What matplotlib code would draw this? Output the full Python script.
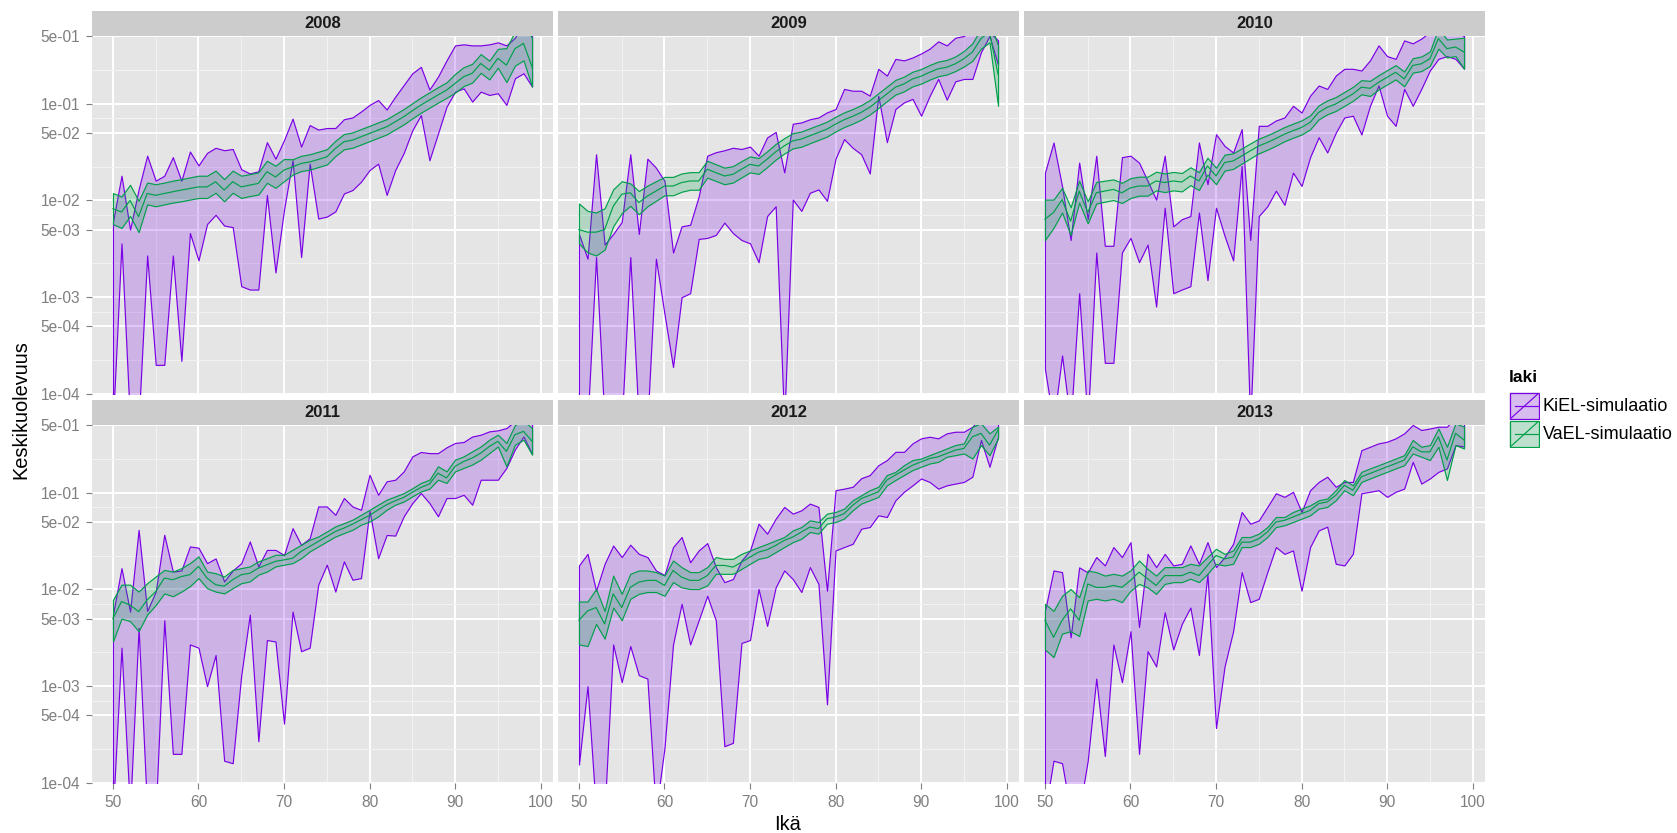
import matplotlib
matplotlib.use("Agg")
import matplotlib.pyplot as plt
from matplotlib.colors import to_rgba
from matplotlib.patches import Rectangle
from matplotlib.ticker import FixedLocator, FixedFormatter, NullFormatter
import numpy as np

plt.rcParams["font.family"] = ["Liberation Sans", "DejaVu Sans"]

ages = list(range(50, 100))
years = [2008, 2009, 2010, 2011, 2012, 2013]
groups = ["KiEL-simulaatio", "VaEL-simulaatio"]

y_breaks = [1e-4, 5e-4, 1e-3, 5e-3, 1e-2, 5e-2, 1e-1, 5e-1]
y_labels = ["1e-04", "5e-04", "1e-03", "5e-03", "1e-02", "5e-02", "1e-01", "5e-01"]
x_breaks = [50, 60, 70, 80, 90, 100]
x_minor = [55, 65, 75, 85, 95]

# --- KiEL simulation band (lower / upper), ages 50..99; 0 = no deaths ---
kiel_lo_2008 = [0, 0.0036, 0, 0, 0.0027, 0.0002, 0.0002, 0.0027, 0.00022, 0.0046,
                0.0024, 0.0057, 0.0071, 0.0055, 0.0053, 0.0013, 0.0012, 0.0012, 0.0114, 0.0018,
                0.0080, 0.026, 0.0026, 0.024, 0.0065, 0.0068, 0.0077, 0.0118, 0.0128, 0.0156,
                0.0206, 0.024, 0.0114, 0.0206, 0.031, 0.053, 0.076, 0.026, 0.049, 0.093,
                0.133, 0.144, 0.105, 0.133, 0.123, 0.128, 0.097, 0.183, 0.206, 0.150]
kiel_hi_2008 = [0.006, 0.018, 0.005, 0.013, 0.029, 0.016, 0.018, 0.028, 0.016, 0.032,
                0.023, 0.031, 0.035, 0.033, 0.034, 0.021, 0.019, 0.020, 0.040, 0.027,
                0.042, 0.070, 0.036, 0.060, 0.054, 0.056, 0.056, 0.069, 0.072, 0.083,
                0.097, 0.109, 0.087, 0.118, 0.156, 0.206, 0.24, 0.14, 0.19, 0.28,
                0.40, 0.41, 0.40, 0.40, 0.41, 0.43, 0.40, 0.48, 0.70, 0.60]

kiel_lo_2009 = [0, 0, 0.0026, 0, 0, 0, 0.0026, 0, 0, 0.0025,
                0.00067, 0.00019, 0.001, 0.0011, 0.004, 0.0041, 0.0044, 0.0059, 0.0046, 0.0039,
                0.0036, 0.0023, 0.0069, 0.0087, 0, 0.0102, 0.0078, 0.012, 0.013, 0.0099,
                0.027, 0.043, 0.035, 0.030, 0.019, 0.12, 0.04, 0.088, 0.103, 0.112,
                0.075, 0.12, 0.18, 0.11, 0.17, 0.18, 0.18, 0.34, 0.50, 0.25]
kiel_hi_2009 = [0.0045, 0.0025, 0.030, 0.0035, 0.0045, 0.006, 0.030, 0.0045, 0.027, 0.0218,
                0.0159, 0.0029, 0.0054, 0.0056, 0.011, 0.029, 0.0315, 0.033, 0.035, 0.034,
                0.036, 0.029, 0.0448, 0.051, 0.0195, 0.062, 0.064, 0.069, 0.072, 0.0813,
                0.088, 0.142, 0.136, 0.136, 0.121, 0.229, 0.195, 0.29, 0.28, 0.30,
                0.33, 0.37, 0.44, 0.40, 0.48, 0.50, 0.60, 0.70, 0.55, 0.45]

kiel_lo_2010 = [0.00018, 0, 0.00025, 0, 0.0011, 0, 0.0029, 0.00021, 0.00021, 0.0029,
                0.0041, 0.0023, 0.0035, 0.0008, 0.0084, 0.0011, 0.0012, 0.0013, 0.0075, 0.0015,
                0.0084, 0.0043, 0.0024, 0.0227, 0, 0.0069, 0.0087, 0.0126, 0.009, 0.0194,
                0.0141, 0.028, 0.045, 0.0313, 0.05, 0.072, 0.075, 0.048, 0.095, 0.154,
                0.075, 0.059, 0.142, 0.095, 0.142, 0.22, 0.29, 0.31, 0.29, 0.23]
kiel_hi_2010 = [0.0194, 0.0397, 0.014, 0.0039, 0.0246, 0.0064, 0.029, 0.0034, 0.0034, 0.028,
                0.029, 0.0246, 0.0159, 0.0102, 0.029, 0.0054, 0.0064, 0.0069, 0.0397, 0.0147,
                0.0484, 0.0366, 0.0313, 0.0546, 0.0039, 0.059, 0.059, 0.067, 0.072, 0.095,
                0.081, 0.121, 0.154, 0.142, 0.195, 0.229, 0.229, 0.22, 0.28, 0.40,
                0.31, 0.29, 0.45, 0.42, 0.47, 0.55, 0.60, 0.60, 0.55, 0.50]

kiel_lo_2011 = [0, 0.0025, 0, 0.004, 0, 0, 0.0048, 0.0002, 0.0002, 0.0027,
                0.0025, 0.001, 0.0021, 0.00017, 0.00016, 0.0013, 0.0055, 0.00027, 0.003, 0.0029,
                0.00041, 0.0059, 0.0023, 0.0025, 0.0112, 0.018, 0.0095, 0.0195, 0.0126, 0.0131,
                0.065, 0.021, 0.0365, 0.036, 0.057, 0.078, 0.099, 0.078, 0.057, 0.088,
                0.088, 0.095, 0.075, 0.136, 0.136, 0.136, 0.18, 0.28, 0.38, 0.25]
kiel_hi_2011 = [0.0055, 0.0166, 0.0059, 0.0413, 0.006, 0.0095, 0.0367, 0.0153, 0.0157, 0.0278,
                0.027, 0.0187, 0.0209, 0.0121, 0.0157, 0.0187, 0.0313, 0.0173, 0.0256, 0.0256,
                0.0227, 0.043, 0.0289, 0.0338, 0.072, 0.072, 0.059, 0.088, 0.072, 0.0665,
                0.153, 0.095, 0.131, 0.136, 0.166, 0.237, 0.263, 0.256, 0.256, 0.294,
                0.326, 0.334, 0.38, 0.397, 0.43, 0.44, 0.465, 0.55, 0.60, 0.55]

kiel_lo_2012 = [0.000155, 0.001, 0, 0, 0.0027, 0.0011, 0.0026, 0.0013, 0.0012, 0,
                0.00023, 0.0027, 0.0071, 0.0027, 0.0048, 0.0086, 0.0048, 0.00024, 0.00026, 0.0028,
                0.003, 0.0101, 0.0042, 0.0105, 0.0157, 0.0128, 0.0094, 0.017, 0.0114, 0.00065,
                0.0253, 0.0274, 0.0296, 0.0424, 0.0441, 0.0583, 0.056, 0.0834, 0.102, 0.119,
                0.14, 0.129, 0.11, 0.119, 0.124, 0.129, 0.146, 0.35, 0.185, 0.378]
kiel_hi_2012 = [0.0177, 0.0233, 0.0097, 0.0184, 0.0284, 0.0216, 0.029, 0.0233, 0.0216, 0.0157,
                0.0141, 0.0274, 0.0348, 0.0191, 0.0253, 0.0301, 0.017, 0.0119, 0.0128, 0.0199,
                0.0253, 0.0478, 0.0377, 0.0538, 0.0712, 0.0607, 0.0657, 0.0771, 0.0712, 0.0097,
                0.106, 0.11, 0.115, 0.141, 0.152, 0.192, 0.217, 0.264, 0.264, 0.323,
                0.364, 0.378, 0.364, 0.41, 0.426, 0.426, 0.48, 0.60, 0.60, 0.55]

kiel_lo_2013 = [0, 0.00017, 0.00016, 0, 0, 0.00017, 0.0012, 0.00019, 0.0027, 0.0011,
                0.0037, 0.0002, 0.0023, 0.0016, 0.0058, 0.0024, 0.0044, 0.0065, 0.0021, 0.0145,
                0.00037, 0.0016, 0.0037, 0.0151, 0.0074, 0.008, 0.0151, 0.0274, 0.0233, 0.0253,
                0.0097, 0.0274, 0.0407, 0.0445, 0.0184, 0.0177, 0.0233, 0.0985, 0.102, 0.106,
                0.0904, 0.102, 0.11, 0.208, 0.124, 0.14, 0.164, 0.178, 0.31, 0.30]
kiel_hi_2013 = [0.006, 0.0157, 0.0151, 0.0032, 0.0169, 0.015, 0.0216, 0.0177, 0.0274, 0.0216,
                0.0308, 0.0041, 0.0233, 0.017, 0.0233, 0.0177, 0.0184, 0.0285, 0.0184, 0.0308,
                0.017, 0.0216, 0.0296, 0.0631, 0.0478, 0.0517, 0.0712, 0.0985, 0.0904, 0.102,
                0.0631, 0.106, 0.129, 0.146, 0.115, 0.129, 0.129, 0.275, 0.298, 0.323,
                0.336, 0.364, 0.41, 0.50, 0.444, 0.46, 0.48, 0.48, 0.60, 0.55]

# --- VaEL simulation band (lower / middle / upper), ages 50..99 ---
vael_lo_2008 = [0.0057, 0.0052, 0.0069, 0.0047, 0.0091, 0.0087, 0.0091, 0.0095, 0.0098, 0.0102,
                0.0106, 0.0106, 0.012, 0.0098, 0.012, 0.0106, 0.0111, 0.0115, 0.0152, 0.0135,
                0.0158, 0.0185, 0.0201, 0.0208, 0.0221, 0.0235, 0.0287, 0.0337, 0.035, 0.0379,
                0.041, 0.0444, 0.0481, 0.0542, 0.0611, 0.0704, 0.0806, 0.0908, 0.1025, 0.115,
                0.13, 0.152, 0.165, 0.208, 0.178, 0.235, 0.167, 0.247, 0.28, 0.15]
vael_mid_2008 = [0.0082, 0.0076, 0.010, 0.0068, 0.0118, 0.0113, 0.0118, 0.0123, 0.0128, 0.0133,
                 0.0138, 0.0138, 0.0156, 0.0128, 0.0156, 0.0138, 0.0144, 0.015, 0.0198, 0.0175,
                 0.0206, 0.0222, 0.0241, 0.025, 0.0265, 0.0282, 0.0344, 0.0404, 0.042, 0.0455,
                 0.0492, 0.0533, 0.0577, 0.065, 0.0733, 0.0845, 0.0967, 0.109, 0.123, 0.138,
                 0.162, 0.19, 0.206, 0.26, 0.222, 0.294, 0.25, 0.37, 0.42, 0.24]
vael_hi_2008 = [0.0119, 0.011, 0.0145, 0.0099, 0.0153, 0.0147, 0.0153, 0.016, 0.0166, 0.0173,
                0.018, 0.018, 0.0203, 0.0166, 0.0203, 0.018, 0.0187, 0.0195, 0.0257, 0.0228,
                0.0268, 0.0266, 0.0289, 0.030, 0.0318, 0.0338, 0.0413, 0.0485, 0.0504, 0.0546,
                0.059, 0.064, 0.0692, 0.078, 0.088, 0.101, 0.116, 0.131, 0.148, 0.166,
                0.203, 0.238, 0.258, 0.325, 0.278, 0.368, 0.375, 0.555, 0.63, 0.48]

vael_lo_2009 = [0.0036, 0.0029, 0.0027, 0.0031, 0.0054, 0.0074, 0.0088, 0.0072, 0.0087, 0.0099,
                0.0113, 0.0113, 0.0123, 0.0129, 0.0129, 0.0172, 0.0159, 0.0147, 0.0153, 0.0173,
                0.0195, 0.0188, 0.0221, 0.0264, 0.0305, 0.0345, 0.0359, 0.039, 0.0422, 0.0457,
                0.0516, 0.0573, 0.0622, 0.0684, 0.0772, 0.0903, 0.106, 0.124, 0.134, 0.151,
                0.161, 0.177, 0.192, 0.2, 0.217, 0.242, 0.277, 0.37, 0.43, 0.095]
vael_mid_2009 = [0.005, 0.0047, 0.0047, 0.005, 0.0087, 0.0116, 0.012, 0.0095, 0.0111, 0.0125,
                 0.0141, 0.0141, 0.0153, 0.0159, 0.0159, 0.021, 0.0194, 0.0179, 0.0186, 0.021,
                 0.0236, 0.0227, 0.0267, 0.0318, 0.0366, 0.0413, 0.043, 0.0466, 0.0504, 0.0546,
                 0.0615, 0.0682, 0.074, 0.0813, 0.0917, 0.1075, 0.126, 0.148, 0.16, 0.18,
                 0.192, 0.211, 0.229, 0.238, 0.258, 0.291, 0.341, 0.47, 0.55, 0.2]
vael_hi_2009 = [0.0093, 0.0078, 0.0075, 0.0083, 0.013, 0.0158, 0.015, 0.0125, 0.0142, 0.0158,
                0.0175, 0.0175, 0.019, 0.0196, 0.0196, 0.0257, 0.0237, 0.0218, 0.0226, 0.0255,
                0.0285, 0.0274, 0.0322, 0.0383, 0.044, 0.0495, 0.0515, 0.0557, 0.0602, 0.0652,
                0.0733, 0.0812, 0.088, 0.0966, 0.109, 0.128, 0.15, 0.176, 0.19, 0.214,
                0.228, 0.251, 0.272, 0.283, 0.307, 0.35, 0.42, 0.6, 0.7, 0.4]

vael_lo_2010 = [0.0039, 0.0052, 0.0075, 0.0044, 0.0095, 0.0058, 0.0093, 0.0097, 0.0101, 0.0094,
                0.0106, 0.0112, 0.0112, 0.0127, 0.0122, 0.0127, 0.0124, 0.0144, 0.0128, 0.0185,
                0.0147, 0.0203, 0.0212, 0.024, 0.0272, 0.0307, 0.0334, 0.0368, 0.0409, 0.0444,
                0.048, 0.0542, 0.0688, 0.0776, 0.0841, 0.0948, 0.107, 0.125, 0.12, 0.14,
                0.158, 0.178, 0.151, 0.209, 0.217, 0.245, 0.37, 0.3, 0.31, 0.23]
vael_mid_2010 = [0.0064, 0.0075, 0.0102, 0.0061, 0.0125, 0.0075, 0.012, 0.0125, 0.013, 0.012,
                 0.0135, 0.0141, 0.0141, 0.0159, 0.0153, 0.0159, 0.0155, 0.0179, 0.0159, 0.0227,
                 0.0179, 0.0246, 0.0256, 0.0288, 0.0325, 0.0366, 0.0397, 0.0437, 0.0484, 0.0525,
                 0.0568, 0.064, 0.0813, 0.0917, 0.0993, 0.112, 0.126, 0.148, 0.144, 0.166,
                 0.187, 0.211, 0.18, 0.248, 0.258, 0.291, 0.47, 0.37, 0.385, 0.341]
vael_hi_2010 = [0.0102, 0.0102, 0.0135, 0.0085, 0.016, 0.0098, 0.0155, 0.016, 0.0165, 0.0152,
                0.017, 0.0176, 0.0176, 0.0198, 0.019, 0.0197, 0.0192, 0.022, 0.0196, 0.0276,
                0.0218, 0.0297, 0.0307, 0.0345, 0.0388, 0.0435, 0.0472, 0.0518, 0.0573, 0.0622,
                0.0672, 0.0757, 0.096, 0.108, 0.117, 0.132, 0.149, 0.175, 0.172, 0.197,
                0.222, 0.25, 0.215, 0.295, 0.307, 0.346, 0.6, 0.46, 0.47, 0.48]

vael_lo_2011 = [0.0029, 0.005, 0.0047, 0.0037, 0.0055, 0.0069, 0.0091, 0.0085, 0.0095, 0.0108,
                0.0131, 0.0103, 0.0095, 0.0091, 0.0103, 0.0116, 0.0121, 0.0142, 0.0153, 0.0173,
                0.018, 0.0187, 0.021, 0.0247, 0.0278, 0.0313, 0.0352, 0.0382, 0.0413, 0.0466,
                0.0504, 0.0568, 0.0665, 0.075, 0.081, 0.0914, 0.103, 0.11, 0.136, 0.126,
                0.166, 0.18, 0.195, 0.219, 0.256, 0.30, 0.187, 0.313, 0.352, 0.247]
vael_mid_2011 = [0.005, 0.0075, 0.0069, 0.0059, 0.0078, 0.0095, 0.0131, 0.0126, 0.0136, 0.0142,
                 0.0173, 0.0131, 0.0112, 0.0108, 0.0126, 0.0142, 0.0147, 0.0166, 0.018, 0.0195,
                 0.0202, 0.021, 0.0247, 0.0278, 0.0313, 0.0352, 0.0397, 0.043, 0.0473, 0.0525,
                 0.0582, 0.0665, 0.075, 0.0824, 0.0893, 0.101, 0.113, 0.123, 0.159, 0.142,
                 0.187, 0.21, 0.228, 0.256, 0.30, 0.339, 0.267, 0.397, 0.43, 0.339]
vael_hi_2011 = [0.0078, 0.0112, 0.0112, 0.0095, 0.0116, 0.0136, 0.0159, 0.0153, 0.0166, 0.0187,
                0.0219, 0.0153, 0.0147, 0.0136, 0.0159, 0.0166, 0.0173, 0.0195, 0.021, 0.0228,
                0.0228, 0.0257, 0.0289, 0.0326, 0.0352, 0.0397, 0.0448, 0.0484, 0.0525, 0.059,
                0.0665, 0.075, 0.0845, 0.0914, 0.099, 0.111, 0.126, 0.136, 0.187, 0.166,
                0.219, 0.237, 0.267, 0.30, 0.352, 0.397, 0.326, 0.5, 0.55, 0.465]

vael_lo_2012 = [0.0027, 0.0026, 0.0044, 0.0031, 0.0065, 0.0048, 0.008, 0.009, 0.0094, 0.0094,
                0.0086, 0.0119, 0.0105, 0.0101, 0.0101, 0.011, 0.0145, 0.0145, 0.0145, 0.0163,
                0.0184, 0.0207, 0.0216, 0.0243, 0.0274, 0.0308, 0.0334, 0.0392, 0.0377, 0.0478,
                0.0497, 0.054, 0.0657, 0.0771, 0.0834, 0.0904, 0.119, 0.135, 0.152, 0.171,
                0.185, 0.2, 0.208, 0.235, 0.244, 0.254, 0.225, 0.31, 0.244, 0.364]
vael_mid_2012 = [0.0048, 0.006, 0.0065, 0.0044, 0.009, 0.0065, 0.0105, 0.0119, 0.0124, 0.0124,
                 0.011, 0.0157, 0.0134, 0.0124, 0.0124, 0.0139, 0.0177, 0.0177, 0.017, 0.0191,
                 0.0216, 0.0243, 0.0257, 0.0285, 0.0321, 0.0348, 0.0392, 0.0441, 0.0424, 0.0538,
                 0.056, 0.0607, 0.074, 0.0869, 0.094, 0.102, 0.135, 0.152, 0.171, 0.192,
                 0.208, 0.225, 0.235, 0.254, 0.275, 0.286, 0.378, 0.41, 0.31, 0.444]
vael_hi_2012 = [0.0075, 0.0075, 0.0101, 0.006, 0.0139, 0.009, 0.0145, 0.0157, 0.0157, 0.0151,
                0.0139, 0.0199, 0.017, 0.0151, 0.0151, 0.017, 0.0216, 0.0207, 0.0207, 0.0233,
                0.0253, 0.0274, 0.0296, 0.0321, 0.0348, 0.0407, 0.0441, 0.0517, 0.0497, 0.0607,
                0.0631, 0.0684, 0.0834, 0.094, 0.106, 0.115, 0.152, 0.164, 0.192, 0.217,
                0.225, 0.244, 0.264, 0.286, 0.31, 0.323, 0.48, 0.52, 0.41, 0.48]

vael_lo_2013 = [0.0024, 0.002, 0.0035, 0.0037, 0.0033, 0.0077, 0.008, 0.0077, 0.008, 0.0074,
                0.0097, 0.0114, 0.0105, 0.009, 0.0114, 0.0119, 0.0119, 0.0129, 0.0119, 0.0145,
                0.0184, 0.0177, 0.0184, 0.0274, 0.0274, 0.0296, 0.0348, 0.0441, 0.046, 0.0497,
                0.0538, 0.0583, 0.0684, 0.0712, 0.0834, 0.106, 0.094, 0.129, 0.14, 0.152,
                0.164, 0.178, 0.192, 0.254, 0.235, 0.217, 0.298, 0.135, 0.31, 0.286]
vael_mid_2013 = [0.0048, 0.0032, 0.0048, 0.0063, 0.0048, 0.0114, 0.0105, 0.0105, 0.011, 0.0105,
                 0.0124, 0.0151, 0.0129, 0.011, 0.0139, 0.0139, 0.0139, 0.0151, 0.0139, 0.0177,
                 0.0224, 0.0207, 0.0216, 0.0308, 0.0308, 0.0334, 0.0392, 0.0497, 0.0517, 0.056,
                 0.0607, 0.0657, 0.0771, 0.0802, 0.094, 0.119, 0.106, 0.146, 0.158, 0.171,
                 0.185, 0.2, 0.217, 0.298, 0.264, 0.264, 0.378, 0.217, 0.41, 0.35]
vael_hi_2013 = [0.0071, 0.006, 0.0086, 0.0101, 0.0083, 0.0157, 0.0151, 0.0139, 0.0145, 0.0139,
                0.0157, 0.0199, 0.0163, 0.0139, 0.017, 0.017, 0.017, 0.0184, 0.0177, 0.0216,
                0.0263, 0.0233, 0.0253, 0.0348, 0.0348, 0.0377, 0.0441, 0.056, 0.056, 0.0631,
                0.0684, 0.074, 0.0834, 0.0869, 0.106, 0.135, 0.119, 0.164, 0.178, 0.192,
                0.208, 0.225, 0.244, 0.35, 0.298, 0.31, 0.46, 0.298, 0.52, 0.48]

panels = {
    2008: (kiel_lo_2008, kiel_hi_2008, vael_lo_2008, vael_mid_2008, vael_hi_2008),
    2009: (kiel_lo_2009, kiel_hi_2009, vael_lo_2009, vael_mid_2009, vael_hi_2009),
    2010: (kiel_lo_2010, kiel_hi_2010, vael_lo_2010, vael_mid_2010, vael_hi_2010),
    2011: (kiel_lo_2011, kiel_hi_2011, vael_lo_2011, vael_mid_2011, vael_hi_2011),
    2012: (kiel_lo_2012, kiel_hi_2012, vael_lo_2012, vael_mid_2012, vael_hi_2012),
    2013: (kiel_lo_2013, kiel_hi_2013, vael_lo_2013, vael_mid_2013, vael_hi_2013),
}

PURPLE = "#7A00E6"
GREEN = "#00A04A"
FILL_ALPHA = 0.22
PANEL_BG = "#E5E5E5"
STRIP_BG = "#CCCCCC"
AXIS_GREY = "#7F7F7F"

W, H = 1677, 833
fig = plt.figure(figsize=(W / 100, H / 100), dpi=100)


def px_box(left, top, w, h):
    return [left / W, 1 - (top + h) / H, w / W, h / H]


PANEL_W, PANEL_H, STRIP_H = 461, 358, 25
col_left = [92, 558, 1024]
row_top = [36, 425]

y_min, y_max = 1e-4, 0.5
x_lo, x_hi = 50 - 0.05 * 49, 99 + 0.05 * 49
y_minor = [np.sqrt(a * b) for a, b in zip(y_breaks[:-1], y_breaks[1:])]
# zero rates sit below the panel floor so their lines run off the bottom edge
FLOOR = 5e-5


def floored(v):
    v = np.asarray(v, dtype=float)
    return np.where(v > 0, v, FLOOR)


for i, year in enumerate(years):
    r, c = divmod(i, 3)
    ax = fig.add_axes(px_box(col_left[c], row_top[r], PANEL_W, PANEL_H))
    ax.set_facecolor(PANEL_BG)
    ax.set_yscale("log")
    ax.set_xlim(x_lo, x_hi)
    ax.set_ylim(y_min, y_max)
    ax.yaxis.set_major_locator(FixedLocator(y_breaks))
    ax.yaxis.set_major_formatter(FixedFormatter(y_labels))
    ax.yaxis.set_minor_locator(FixedLocator(y_minor))
    ax.yaxis.set_minor_formatter(NullFormatter())
    ax.xaxis.set_major_locator(FixedLocator(x_breaks))
    ax.xaxis.set_minor_locator(FixedLocator(x_minor))
    ax.set_axisbelow(True)
    ax.grid(which="minor", color="#F2F2F2", lw=0.75)
    ax.grid(which="major", color="white", lw=1.4)
    for s in ax.spines.values():
        s.set_visible(False)
    ax.tick_params(which="minor", length=0)
    ax.tick_params(which="major", length=4.3, width=0.8, color=AXIS_GREY,
                   labelcolor=AXIS_GREY, labelsize=11.2, pad=4)
    if c != 0:
        ax.tick_params(axis="y", which="both", left=False, labelleft=False)
    if r != 1:
        ax.tick_params(axis="x", which="both", bottom=False, labelbottom=False)

    k_lo, k_hi, v_lo, v_mid, v_hi = panels[year]
    ax.fill_between(ages, floored(k_lo), floored(k_hi),
                    facecolor=to_rgba(PURPLE, FILL_ALPHA), edgecolor=PURPLE, lw=0.85)
    ax.fill_between(ages, floored(v_lo), floored(v_hi),
                    facecolor=to_rgba(GREEN, FILL_ALPHA), edgecolor=GREEN, lw=0.85)
    ax.plot(ages, v_mid, color=GREEN, lw=0.85)

    # facet strip
    sax = fig.add_axes(px_box(col_left[c], row_top[r] - STRIP_H, PANEL_W, STRIP_H))
    sax.set_facecolor(STRIP_BG)
    sax.set_xticks([])
    sax.set_yticks([])
    for s in sax.spines.values():
        s.set_visible(False)
    sax.text(0.5, 0.5, str(year), ha="center", va="center", fontsize=12,
             fontweight="bold", color="#1A1A1A", transform=sax.transAxes)

fig.text(21 / W, 1 - 410 / H, "Keskikuolevuus", rotation=90, ha="center",
         va="center", fontsize=14.4)
fig.text(788 / W, 1 - 824 / H, "Ikä", ha="center", va="center", fontsize=14.4)

# legend
fig.text(1509 / W, 1 - 378 / H, "laki", ha="left", va="center", fontsize=12.5,
         fontweight="bold")
for j, (label, col) in enumerate(zip(groups, [PURPLE, GREEN])):
    top = 392 + 28 * j
    kax = fig.add_axes(px_box(1509, top, 31, 28))
    kax.set_xlim(0, 1)
    kax.set_ylim(0, 1)
    kax.set_facecolor("#F2F2F2")
    kax.set_xticks([])
    kax.set_yticks([])
    for s in kax.spines.values():
        s.set_visible(False)
    kax.add_patch(Rectangle((0.03, 0.03), 0.94, 0.94, facecolor=to_rgba(col, FILL_ALPHA),
                            edgecolor=col, lw=0.9))
    kax.plot([0.08, 0.92], [0.08, 0.92], color=col, lw=0.85)
    kax.plot([0.2, 0.95], [0.5, 0.5], color=col, lw=0.85)
    fig.text(1543 / W, 1 - (top + 14) / H, label, ha="left", va="center", fontsize=13)

fig.savefig("out.png", dpi=100, facecolor="white")
